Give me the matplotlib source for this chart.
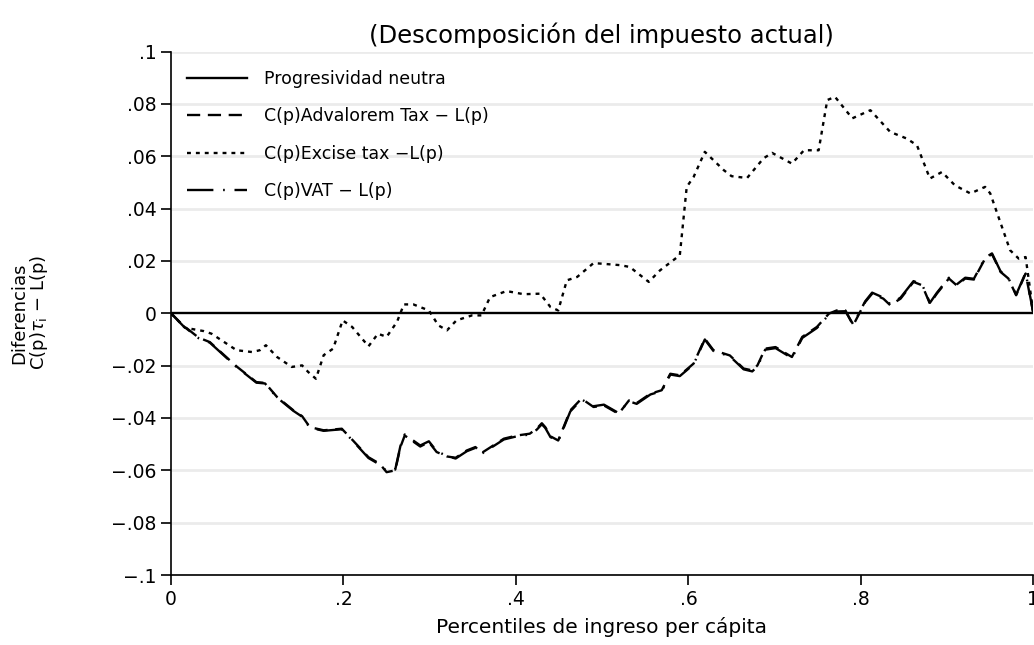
import matplotlib
matplotlib.use("Agg")
import matplotlib.pyplot as plt

plt.rcParams['font.family'] = ['DejaVu Sans']
plt.rcParams['lines.scale_dashes'] = False

# percentiles y diferencias
p_neutra = [0, 1]
v_neutra = [0, 0]

p_excise = [0, 0.016, 0.038, 0.047, 0.076, 0.094, 0.103, 0.110, 0.123, 0.140,
            0.152, 0.159, 0.168, 0.177, 0.188, 0.199, 0.210, 0.229, 0.240, 0.250,
            0.262, 0.270, 0.281, 0.299, 0.310, 0.320, 0.331, 0.349, 0.360, 0.370,
            0.389, 0.409, 0.428, 0.440, 0.449, 0.459, 0.471, 0.490, 0.521, 0.532,
            0.554, 0.567, 0.590, 0.598, 0.606, 0.619, 0.641, 0.650, 0.668, 0.687,
            0.697, 0.720, 0.734, 0.751, 0.761, 0.770, 0.790, 0.811, 0.834, 0.853,
            0.865, 0.880, 0.894, 0.909, 0.927, 0.944, 0.950, 0.973, 0.983, 0.991, 1.0]
v_excise = [0, -0.0055, -0.0068, -0.0078, -0.0141, -0.0148, -0.0141, -0.0122, -0.0167, -0.0205,
            -0.0199, -0.0224, -0.025, -0.016, -0.0135, -0.0027, -0.0052, -0.0126, -0.0078, -0.009,
            -0.0033, 0.0034, 0.0034, 0.0011, -0.0046, -0.0065, -0.0027, -0.0008, -0.0008, 0.0062,
            0.0085, 0.0073, 0.0075, 0.0024, 0.0011, 0.0126, 0.0139, 0.0192, 0.0184, 0.0177,
            0.012, 0.0164, 0.0222, 0.0483, 0.0521, 0.0617, 0.0547, 0.0524, 0.0517, 0.0592,
            0.0613, 0.0572, 0.0623, 0.0623, 0.0815, 0.0827, 0.0745, 0.0776, 0.0693, 0.0668,
            0.0642, 0.0515, 0.054, 0.0489, 0.0458, 0.0483, 0.0458, 0.0241, 0.0209, 0.0215, 0]

p_adv = [0, 0.014, 0.032, 0.045, 0.076, 0.099, 0.109, 0.123, 0.142, 0.152,
         0.161, 0.177, 0.198, 0.211, 0.229, 0.242, 0.250, 0.260, 0.266, 0.271,
         0.289, 0.299, 0.308, 0.320, 0.330, 0.343, 0.353, 0.360, 0.386, 0.401,
         0.416, 0.424, 0.430, 0.434, 0.440, 0.449, 0.463, 0.476, 0.490, 0.502,
         0.519, 0.531, 0.540, 0.556, 0.569, 0.579, 0.590, 0.606, 0.619, 0.629,
         0.648, 0.664, 0.674, 0.680, 0.689, 0.701, 0.720, 0.732, 0.749, 0.763,
         0.772, 0.782, 0.791, 0.805, 0.813, 0.826, 0.834, 0.846, 0.861, 0.871,
         0.880, 0.888, 0.902, 0.911, 0.921, 0.931, 0.944, 0.952, 0.962, 0.971,
         0.980, 0.991, 1.0]
v_adv = [0, -0.0046, -0.0093, -0.011, -0.0203, -0.0263, -0.0266, -0.032, -0.0371, -0.0393,
         -0.0435, -0.0447, -0.0441, -0.0486, -0.055, -0.0575, -0.0607, -0.06, -0.0511, -0.0467,
         -0.0509, -0.0492, -0.053, -0.0547, -0.0552, -0.0524, -0.0511, -0.0534, -0.0479, -0.0467,
         -0.046, -0.0441, -0.042, -0.0435, -0.047, -0.0486, -0.0371, -0.0326, -0.0358, -0.0352,
         -0.0384, -0.0333, -0.0343, -0.0307, -0.0294, -0.0231, -0.0237, -0.0192, -0.0097, -0.0141,
         -0.0161, -0.0211, -0.0218, -0.0199, -0.0135, -0.0129, -0.0167, -0.009, -0.0052, -0.0001,
         0.0011, 0.0011, -0.0046, 0.0043, 0.0075, 0.0056, 0.0031, 0.0056, 0.012, 0.0107,
         0.0037, 0.0075, 0.0133, 0.0107, 0.0133, 0.0129, 0.0209, 0.0226, 0.0158, 0.0133,
         0.0069, 0.0152, 0]

p_vat = p_adv
v_vat = [0, -0.0048, -0.0095, -0.0112, -0.0205, -0.0265, -0.0268, -0.0322, -0.0373, -0.0395,
         -0.0437, -0.0449, -0.0443, -0.0488, -0.0553, -0.0578, -0.0603, -0.0597, -0.0507, -0.0463,
         -0.0505, -0.0489, -0.0527, -0.0545, -0.0555, -0.0527, -0.0514, -0.0537, -0.0482, -0.047,
         -0.0463, -0.0445, -0.0424, -0.0438, -0.0473, -0.0489, -0.0375, -0.0329, -0.0355, -0.0349,
         -0.0381, -0.0336, -0.0346, -0.031, -0.0297, -0.0234, -0.024, -0.0195, -0.01, -0.0144,
         -0.0164, -0.0214, -0.0222, -0.0203, -0.0139, -0.0133, -0.0171, -0.0094, -0.0056, -0.0005,
         0.0007, 0.0008, -0.0042, 0.0046, 0.0079, 0.006, 0.0035, 0.006, 0.0123, 0.011,
         0.004, 0.0078, 0.0136, 0.011, 0.0136, 0.0132, 0.0212, 0.0229, 0.016, 0.0135,
         0.0071, 0.0155, 0]

y_ticks = [0.1, 0.08, 0.06, 0.04, 0.02, 0, -0.02, -0.04, -0.06, -0.08, -0.1]
y_labels = ['.1', '.08', '.06', '.04', '.02', '0', '−.02', '−.04', '−.06', '−.08', '−.1']
x_ticks = [0, 0.2, 0.4, 0.6, 0.8, 1]
x_labels = ['0', '.2', '.4', '.6', '.8', '1']

fig = plt.figure(figsize=(10.34, 6.45), dpi=100)
ax = fig.add_axes([0.1654, 0.1085, 0.834, 0.8115])

for yt in y_ticks:
    if yt != 0:
        ax.axhline(yt, color='#ebebeb', lw=2, zorder=0)

ax.plot(p_neutra, v_neutra, color='black', lw=1.7, label='Progresividad neutra')
ax.plot(p_adv, v_adv, color='black', lw=1.7, linestyle=(0, (9.5, 5.5)),
        label='C(p)Advalorem Tax − L(p)')
ax.plot(p_excise, v_excise, color='black', lw=1.7, linestyle=(0, (2.8, 3.6)),
        label='C(p)Excise tax −L(p)')
ax.plot(p_vat, v_vat, color='black', lw=1.7, linestyle=(0, (19, 7, 1.2, 7)),
        label='C(p)VAT − L(p)')

ax.set_xlim(0, 1)
ax.set_ylim(-0.1, 0.1)
ax.set_yticks(y_ticks)
ax.set_yticklabels(y_labels)
ax.set_xticks(x_ticks)
ax.set_xticklabels(x_labels)
ax.tick_params(axis='both', labelsize=13.5, length=7, width=1.2, direction='out')
ax.spines['top'].set_visible(False)
ax.spines['right'].set_visible(False)
ax.spines['left'].set_linewidth(1.2)
ax.spines['bottom'].set_linewidth(1.2)

ax.legend(loc='upper left', bbox_to_anchor=(0.0, 0.995), frameon=False, fontsize=12.5,
          handlelength=3.45, handletextpad=1.0, labelspacing=1.12)

fig.text(0.582, 0.945, '(Descomposición del impuesto actual)', ha='center', va='center', fontsize=17.5)
fig.text(0.582, 0.012, 'Percentiles de ingreso per cápita', ha='center', va='bottom', fontsize=14.5)
fig.text(0.029, 0.515, 'Diferencias\nC(p)$\\tau_{\\mathregular{i}}$ − L(p)', rotation=90,
         ha='center', va='center', fontsize=13, linespacing=1.0, multialignment='center')

fig.savefig('out.png', dpi=100)
